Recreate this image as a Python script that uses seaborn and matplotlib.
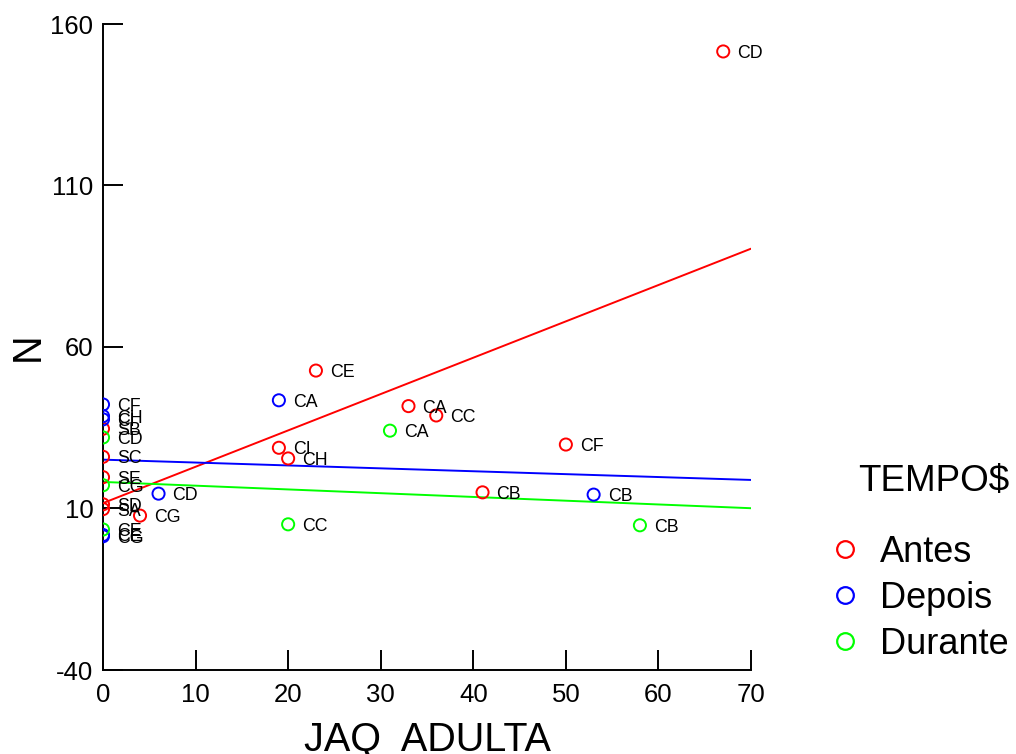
import matplotlib
matplotlib.use("Agg")
import matplotlib.pyplot as plt
from matplotlib.lines import Line2D
import pandas as pd
import seaborn as sns

# Site counts by period
antes_x = [67, 23, 33, 36, 50, 19, 20, 41, 4, 0, 0, 0, 0, 0]
antes_y = [151.5, 52.7, 41.7, 38.8, 29.8, 28.8, 25.5, 15.0, 7.8, 34.7, 26.0, 19.7, 11.3, 9.8]
antes_lbl = ["CD", "CE", "CA", "CC", "CF", "CI", "CH", "CB", "CG", "SB", "SC", "SE", "SD", "SA"]

depois_x = [0, 0, 0, 19, 6, 53, 0, 0]
depois_y = [42.2, 38.6, 37.6, 43.5, 14.6, 14.3, 1.8, 1.4]
depois_lbl = ["CF", "CH", "CI", "CA", "CD", "CB", "CE", "CG"]

durante_x = [31, 20, 58, 0, 0, 0]
durante_y = [34.1, 5.1, 4.8, 32.0, 17.2, 3.5]
durante_lbl = ["CA", "CC", "CB", "CD", "CG", "CE"]

groups = ["Antes", "Depois", "Durante"]
colors = {"Antes": "#ff0000", "Depois": "#0000ff", "Durante": "#00ff00"}

frames = []
for g, xs, ys, ls in [("Antes", antes_x, antes_y, antes_lbl),
                      ("Depois", depois_x, depois_y, depois_lbl),
                      ("Durante", durante_x, durante_y, durante_lbl)]:
    frames.append(pd.DataFrame({"JAQ_ADULTA": xs, "N": ys, "SITIO": ls, "TEMPO$": g}))
df = pd.concat(frames, ignore_index=True)

sns.set_theme(style="ticks")
plt.rcParams["font.family"] = ["Liberation Sans", "DejaVu Sans"]
plt.rcParams["axes.unicode_minus"] = False
plt.rcParams["text.color"] = "black"

fig = plt.figure(figsize=(10.16, 7.54), dpi=100)
ax = fig.add_axes([103 / 1016, 84 / 754, 648 / 1016, 646 / 754])
ax.set_xlim(0, 70)
ax.set_ylim(-40, 160)

# Least-squares line per period, spanning the full x range
for g in groups:
    sub = df[df["TEMPO$"] == g]
    sns.regplot(data=sub, x="JAQ_ADULTA", y="N", ax=ax, scatter=False, ci=None,
                truncate=False, color=colors[g],
                line_kws={"linewidth": 1.4, "zorder": 2})
ax.set_xlim(0, 70)
ax.set_ylim(-40, 160)

# Open circle markers
sns.scatterplot(data=df, x="JAQ_ADULTA", y="N", hue="TEMPO$", palette=colors,
                hue_order=groups, s=76, marker="o", linewidth=1.4,
                legend=False, ax=ax, zorder=3)
pts = ax.collections[-1]
fc = pts.get_facecolors()
pts.set_edgecolors(fc)
pts.set_facecolors("none")

for _, r in df.iterrows():
    ax.annotate(r["SITIO"], (r["JAQ_ADULTA"], r["N"]), xytext=(14, -2),
                textcoords="offset pixels", fontsize=12.8, ha="left",
                va="center", color="black", zorder=4)

ax.set_xticks(range(0, 71, 10))
ax.set_yticks([-40, 10, 60, 110, 160])
ax.tick_params(axis="both", direction="in", length=14.4, width=1.4,
               color="black", labelsize=18.5, labelcolor="black")
ax.tick_params(axis="x", pad=9)
ax.tick_params(axis="y", pad=7)
for side in ["top", "right"]:
    ax.spines[side].set_visible(False)
for side in ["left", "bottom"]:
    ax.spines[side].set_linewidth(1.4)
    ax.spines[side].set_color("black")

ax.set_xlabel("JAQ  ADULTA", fontsize=28.5, color="black")
ax.xaxis.set_label_coords(0.5, -80 / 646)
ax.xaxis.label.set_verticalalignment("baseline")
ax.set_ylabel("N", fontsize=28.5, color="black")
ax.yaxis.set_label_coords(-75 / 648, 0.5)
ax.yaxis.label.set_verticalalignment("center")

handles = [Line2D([], [], linestyle="none", marker="o", markersize=12,
                  markerfacecolor="none", markeredgecolor=colors[g],
                  markeredgewidth=1.6) for g in groups]
leg = fig.legend(handles, groups, loc="upper left",
                 bbox_to_anchor=(831 / 1016, 1 - 535 / 754), frameon=False,
                 fontsize=26, handlelength=0.8, handletextpad=0.55,
                 labelspacing=0.3, borderpad=0, borderaxespad=0)
for t in leg.get_texts():
    t.set_color("black")
fig.text(858 / 1016, 1 - 481 / 754, "TEMPO$", fontsize=26.5,
         ha="left", va="center", color="black")

fig.savefig("out.png", dpi=100)
